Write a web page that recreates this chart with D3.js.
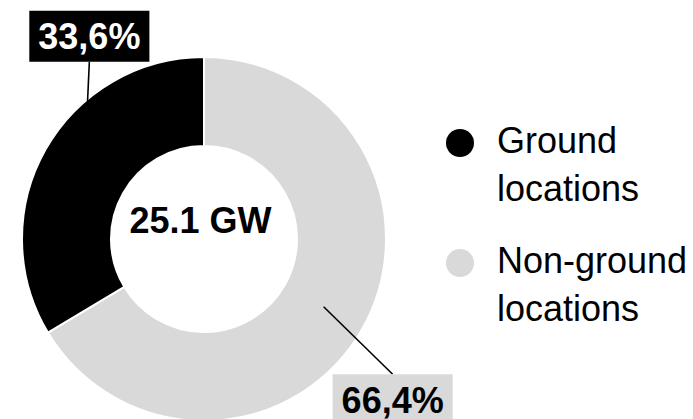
<!DOCTYPE html>
<html>
<head>
<meta charset="utf-8">
<script src="https://cdn.jsdelivr.net/npm/d3@7"></script>
<style>
  html, body { margin: 0; padding: 0; background: #fff; }
  svg { display: block; font-family: "Liberation Sans", Arial, sans-serif; }
</style>
</head>
<body>
<svg id="chart" width="693" height="419"></svg>
<script>
// ---- data ----
const categories = ["Non-ground locations", "Ground locations"];
const values = [66.4, 33.6];
const valueLabels = ["66,4%", "33,6%"];
const colors = ["#d9d9d9", "#000000"];
const labelTextColors = ["#000000", "#ffffff"];
const totalLabel = "25.1 GW";
// legend order as shown
const legendOrder = [1, 0];

// ---- layout ----
const W = 693, H = 419;
const cx = 204, cy = 239;
const outerR = 182, innerR = 93;
const fontSize = 36;
const boxPadX = 9, boxH = 51;
// label box centre offsets from slice centroid
const labelOffsets = [[69, 93], [5, -135]];

const svg = d3.select("#chart");
const g = svg.append("g").attr("transform", `translate(${cx},${cy})`);

const data = categories.map((c, i) => ({ name: c, value: values[i], label: valueLabels[i], color: colors[i], textColor: labelTextColors[i] }));

const pie = d3.pie().sort(null).value(d => d.value);
const arc = d3.arc().innerRadius(innerR).outerRadius(outerR);
const arcs = pie(data);

g.selectAll("path.slice")
  .data(arcs)
  .join("path")
  .attr("class", "slice")
  .attr("d", arc)
  .attr("fill", d => d.data.color)
  .attr("stroke", "#fff")
  .attr("stroke-width", 2)
  .attr("stroke-linejoin", "round");

// centre label
g.append("text")
  .attr("x", -3.5)
  .attr("y", -6)
  .attr("text-anchor", "middle")
  .attr("font-size", fontSize)
  .attr("font-weight", "bold")
  .attr("fill", "#000")
  .text(totalLabel);

// value labels with leader lines
arcs.forEach((a, i) => {
  const [px, py] = arc.centroid(a);
  const lx = px + labelOffsets[i][0];
  const ly = py + labelOffsets[i][1];
  const lg = g.append("g");
  const txt = lg.append("text")
    .attr("x", lx)
    .attr("y", ly + 13)
    .attr("text-anchor", "middle")
    .attr("font-size", fontSize)
    .attr("font-weight", "bold")
    .attr("fill", a.data.textColor)
    .text(a.data.label);
  const bw = txt.node().getComputedTextLength() + 2 * boxPadX;
  lg.insert("rect", "text")
    .attr("x", lx - bw / 2)
    .attr("y", ly - boxH / 2)
    .attr("width", bw)
    .attr("height", boxH)
    .attr("fill", a.data.color);
  const edgeY = ly + (py > ly ? boxH / 2 : -boxH / 2);
  g.insert("line", "g")
    .attr("x1", px).attr("y1", py)
    .attr("x2", lx).attr("y2", edgeY)
    .attr("stroke", "#000")
    .attr("stroke-width", 1.6);
});

// legend
const legend = svg.append("g").attr("transform", "translate(460,143)");
legendOrder.forEach((idx, k) => {
  const item = legend.append("g").attr("transform", `translate(0,${k * 120})`);
  item.append("circle").attr("r", 14).attr("fill", data[idx].color);
  const words = data[idx].name.split(" ");
  words.forEach((w, j) => {
    item.append("text")
      .attr("x", 37)
      .attr("y", 10 + j * 47.5)
      .attr("font-size", fontSize)
      .attr("fill", "#000")
      .text(w);
  });
});
</script>
</body>
</html>
